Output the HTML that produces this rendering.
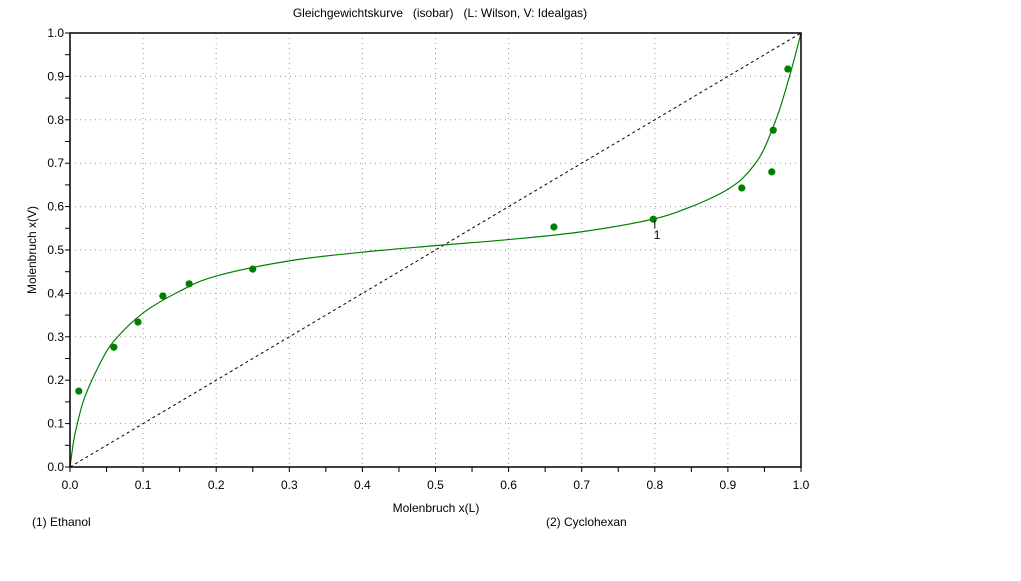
<!DOCTYPE html>
<html><head><meta charset="utf-8"><style>
body{margin:0;background:#fff;width:1021px;height:576px;overflow:hidden;font-family:"Liberation Sans",sans-serif}
svg text{font-family:"Liberation Sans",sans-serif;font-size:12px;fill:#000;white-space:pre}
</style></head><body>
<svg id="c" width="1021" height="576"></svg>
<script>
const xTicks=[0,0.1,0.2,0.3,0.4,0.5,0.6,0.7,0.8,0.9,1.0];
const yTicks=[0,0.1,0.2,0.3,0.4,0.5,0.6,0.7,0.8,0.9,1.0];
const expX=[0.012,0.060,0.093,0.127,0.163,0.250,0.662,0.798,0.919,0.960,0.962,0.982];
const expY=[0.175,0.276,0.334,0.394,0.422,0.456,0.553,0.571,0.643,0.680,0.776,0.917];
const curveX=[0,0.005,0.01,0.02,0.04,0.06,0.1,0.15,0.2,0.3,0.4,0.5,0.6,0.7,0.8,0.85,0.88,0.9,0.92,0.94,0.95,0.96,0.97,0.98,0.99,1.0];
const curveY=[0,0.06,0.1,0.16,0.235,0.29,0.355,0.405,0.44,0.475,0.495,0.51,0.524,0.542,0.572,0.6,0.622,0.64,0.665,0.705,0.735,0.775,0.82,0.875,0.935,1.0];
const X0=70,X1=801,Y0=467,Y1=33;
const sx=v=>X0+v*(X1-X0), sy=v=>Y0-v*(Y0-Y1);
const svg=document.getElementById('c');const NS='http://www.w3.org/2000/svg';
function mk(t,a,p){const e=document.createElementNS(NS,t);for(const k in a)e.setAttribute(k,a[k]);(p||svg).appendChild(e);return e;}
const grid=mk('g',{});


xTicks.slice(1,-1).forEach(v=>mk('line',{x1:sx(v),x2:sx(v),y1:Y1,y2:Y0,stroke:'#999','stroke-dasharray':'1,4'},grid));
yTicks.slice(1,-1).forEach(v=>mk('line',{x1:X0,x2:X1,y1:sy(v),y2:sy(v),stroke:'#999','stroke-dasharray':'1,4'},grid));
const diag=mk('line',{x1:sx(0),y1:sy(0),x2:sx(1),y2:sy(1),stroke:'#000','stroke-dasharray':'3,3'});


let pts=curveX.map((x,i)=>[sx(x),sy(curveY[i])]);
let d='M'+pts[0][0]+','+pts[0][1];
for(let i=0;i<pts.length-1;i++){const p0=pts[Math.max(0,i-1)],p1=pts[i],p2=pts[i+1],p3=pts[Math.min(pts.length-1,i+2)];
d+=` C${p1[0]+(p2[0]-p0[0])/6},${p1[1]+(p2[1]-p0[1])/6} ${p2[0]-(p3[0]-p1[0])/6},${p2[1]-(p3[1]-p1[1])/6} ${p2[0]},${p2[1]}`;}
const cur=mk('path',{d:d,fill:'none',stroke:'#008000','stroke-width':1.2});


expX.forEach((x,i)=>{const c=mk('circle',{cx:sx(x),cy:sy(expY[i]),r:3.6,fill:'#008000'});

});
mk('line',{x1:sx(0.8),x2:sx(0.8),y1:sy(0.571)+1,y2:sy(0.571)+9,stroke:'#000'});
const l1=mk('text',{x:sx(0.8)-1,y:sy(0.571)+20});l1.textContent='1';


const frame=mk('rect',{x:X0,y:Y1,width:X1-X0,height:Y0-Y1,fill:'none',stroke:'#000','stroke-width':1.5});


for(let i=0;i<=20;i++){const v=i/20;
mk('line',{x1:sx(v),x2:sx(v),y1:Y0,y2:Y0+5,stroke:'#000'});
mk('line',{x1:X0-5,x2:X0,y1:sy(v),y2:sy(v),stroke:'#000'});}
xTicks.forEach(v=>{const t=mk('text',{x:sx(v),y:Y0+22,'text-anchor':'middle'});t.textContent=v.toFixed(1);

});
yTicks.forEach(v=>{const t=mk('text',{x:X0-6,y:sy(v)+4,'text-anchor':'end'});t.textContent=v.toFixed(1);

});
const ti=mk('text',{x:440,y:17,'text-anchor':'middle'});ti.textContent='Gleichgewichtskurve   (isobar)   (L: Wilson, V: Idealgas)';


const xt=mk('text',{x:436,y:512,'text-anchor':'middle'});xt.textContent='Molenbruch x(L)';


const yt=mk('text',{x:36,y:250,'text-anchor':'middle',transform:'rotate(-90 36 250)'});yt.textContent='Molenbruch x(V)';


const c1=mk('text',{x:32,y:526});c1.textContent='(1) Ethanol';


const c2=mk('text',{x:546,y:526});c2.textContent='(2) Cyclohexan';


</script>
</body></html>
